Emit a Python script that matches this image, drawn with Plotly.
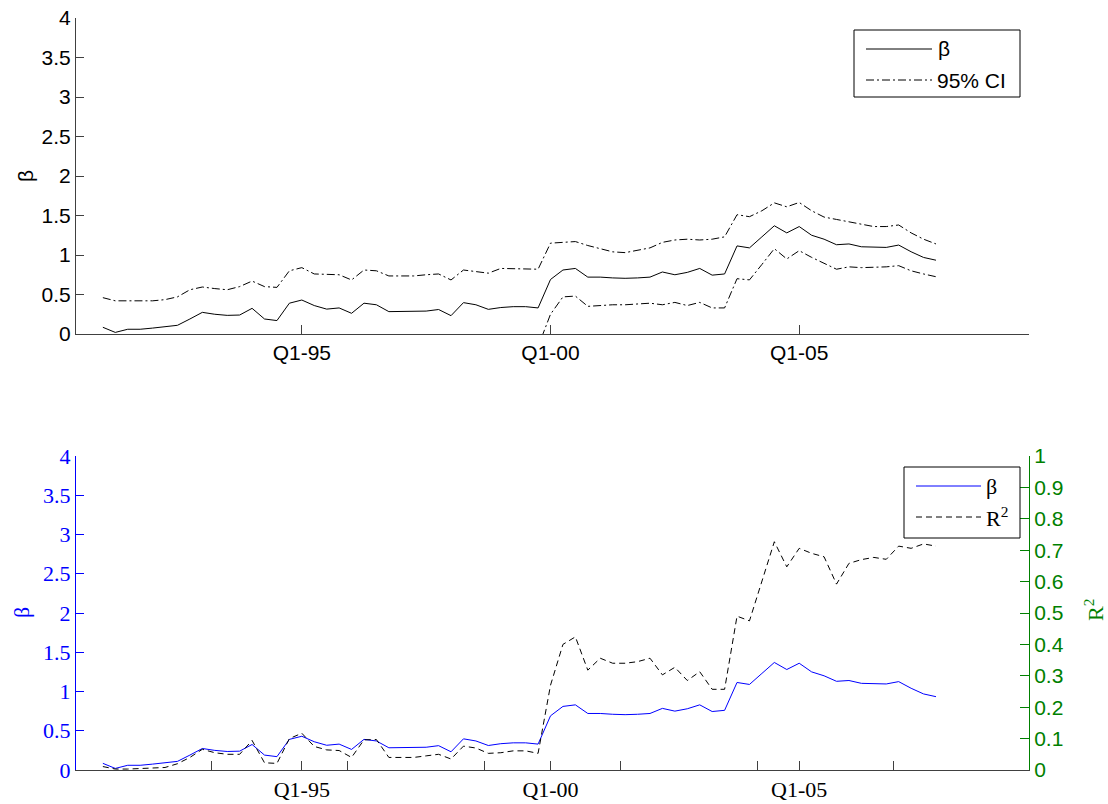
import plotly.graph_objects as go

# Quarterly sample Q1-1991 .. Q4-2007
years = list(range(1991, 2008))
quarters = [1, 2, 3, 4]
labels = [f"Q{q}-{str(y)[2:]}" for y in years for q in quarters]
xpos = [y + (q - 1) / 4 for y in years for q in quarters]

beta = [0.085, 0.02, 0.06, 0.06, 0.075, 0.09, 0.11, 0.19,
        0.274, 0.25, 0.236, 0.24, 0.325, 0.19, 0.17, 0.39,
        0.43, 0.36, 0.315, 0.33, 0.262, 0.39, 0.37, 0.283,
        0.283, 0.283, 0.29, 0.31, 0.232, 0.397, 0.37, 0.312,
        0.335, 0.346, 0.346, 0.33, 0.69, 0.81, 0.83, 0.72,
        0.72, 0.71, 0.705, 0.71, 0.72, 0.785, 0.75, 0.78,
        0.83, 0.745, 0.76, 1.115, 1.09, 1.23, 1.37, 1.28,
        1.36, 1.25, 1.20, 1.13, 1.14, 1.104, 1.10, 1.096,
        1.126, 1.041, 0.969, 0.934]

ci_upper = [0.46, 0.42, 0.42, 0.42, 0.42, 0.435, 0.47, 0.56,
            0.595, 0.575, 0.56, 0.60, 0.67, 0.60, 0.59, 0.80,
            0.84, 0.76, 0.755, 0.75, 0.684, 0.81, 0.80, 0.735,
            0.735, 0.735, 0.75, 0.76, 0.684, 0.81, 0.79, 0.77,
            0.83, 0.825, 0.82, 0.82, 1.15, 1.16, 1.17, 1.12,
            1.08, 1.04, 1.03, 1.06, 1.09, 1.16, 1.19, 1.20,
            1.19, 1.20, 1.23, 1.51, 1.485, 1.56, 1.66, 1.61,
            1.665, 1.56, 1.48, 1.45, 1.42, 1.39, 1.36, 1.36,
            1.38, 1.28, 1.20, 1.14]

ci_lower = [-0.29, -0.38, -0.30, -0.30, -0.27, -0.255, -0.25, -0.18,
            -0.05, -0.075, -0.09, -0.12, -0.02, -0.22, -0.25, -0.02,
            -0.02, -0.04, -0.12, -0.09, -0.16, -0.03, -0.06, -0.17,
            -0.17, -0.17, -0.17, -0.14, -0.22, -0.02, -0.05, -0.15,
            -0.16, -0.13, -0.13, -0.16, 0.25, 0.47, 0.48, 0.35,
            0.36, 0.37, 0.37, 0.38, 0.39, 0.37, 0.40, 0.36,
            0.40, 0.33, 0.33, 0.70, 0.685, 0.88, 1.08, 0.95,
            1.055, 0.97, 0.90, 0.82, 0.85, 0.84, 0.845, 0.85,
            0.865, 0.80, 0.76, 0.725]

r2 = [0.011, 0.003, 0.003, 0.004, 0.005, 0.008, 0.02, 0.04,
      0.066, 0.055, 0.05, 0.05, 0.094, 0.023, 0.021, 0.10,
      0.117, 0.075, 0.064, 0.062, 0.04, 0.096, 0.097, 0.04,
      0.04, 0.04, 0.045, 0.05, 0.035, 0.076, 0.07, 0.053,
      0.055, 0.061, 0.061, 0.053, 0.27, 0.40, 0.424, 0.318,
      0.356, 0.34, 0.34, 0.345, 0.356, 0.303, 0.327, 0.285,
      0.313, 0.257, 0.257, 0.49, 0.475, 0.60, 0.727, 0.647,
      0.706, 0.69, 0.679, 0.592, 0.658, 0.67, 0.677, 0.671,
      0.713, 0.706, 0.72, 0.713]

main_ticks = [1995, 2000, 2005]
main_ticktext = ["Q1-95", "Q1-00", "Q1-05"]
# unlabelled ticks of the secondary x axis on the lower panel
minor_ticks = [1993.18, 1995.91, 1998.67, 2001.41, 2004.16, 2006.89]

X_RANGE = [1990.46, 2009.62]
SANS = "Liberation Sans, Arial, sans-serif"
SERIF = "Liberation Serif, Times New Roman, serif"
BLUE = "#0000ff"
GREEN = "#008000"
AXIS = "#404040"
SANS_SIZE = 21
SERIF_SIZE = 22

W, H = 1108, 804
ML, MR, MT, MB = 76, 79, 18, 34
PW, PH = W - ML - MR, H - MT - MB


def px(x):
    return (x - ML) / PW


def py(y):
    return (H - MB - y) / PH


fig = go.Figure()

# upper panel: beta with confidence band
fig.add_trace(go.Scatter(x=xpos, y=beta, mode="lines", name="β",
                         line=dict(color="#000000", width=1),
                         xaxis="x", yaxis="y", showlegend=False))
fig.add_trace(go.Scatter(x=xpos, y=ci_upper, mode="lines", name="95% CI",
                         line=dict(color="#000000", width=1, dash="8px,3px,2px,3px"),
                         xaxis="x", yaxis="y", showlegend=False))
fig.add_trace(go.Scatter(x=xpos, y=ci_lower, mode="lines", name="95% CI",
                         line=dict(color="#000000", width=1, dash="8px,3px,2px,3px"),
                         xaxis="x", yaxis="y", showlegend=False))

# lower panel: beta (left axis) and R^2 (right axis, own x axis)
fig.add_trace(go.Scatter(x=xpos, y=beta, mode="lines", name="β",
                         line=dict(color=BLUE, width=1),
                         xaxis="x2", yaxis="y2", showlegend=False))
fig.add_trace(go.Scatter(x=xpos, y=r2, mode="lines", name="R²",
                         line=dict(color="#000000", width=1, dash="6px,4px"),
                         xaxis="x3", yaxis="y3", showlegend=False))

top_dom = [py(334), 1.0]
bot_dom = [0.0, py(456)]

common_x = dict(range=X_RANGE, showgrid=False, zeroline=False,
                linecolor=AXIS, linewidth=1, ticks="inside", ticklen=9,
                tickcolor=AXIS, automargin=False)
common_y = dict(range=[0, 4], dtick=0.5, tick0=0, showgrid=False, zeroline=False,
                showline=True, linewidth=1, ticks="inside", ticklen=8,
                automargin=False)

fig.update_layout(
    template="none",
    width=W, height=H,
    margin=dict(l=ML, r=MR, t=MT, b=MB, autoexpand=False),
    paper_bgcolor="white", plot_bgcolor="white",
    showlegend=False,
    xaxis=dict(**common_x, showline=True, domain=[0, 1], anchor="y",
               tickvals=main_ticks, ticktext=main_ticktext,
               tickfont=dict(family=SANS, size=SANS_SIZE, color="#000000")),
    yaxis=dict(**common_y, domain=top_dom, anchor="x",
               linecolor=AXIS, tickcolor=AXIS,
               tickfont=dict(family=SANS, size=SANS_SIZE, color="#000000")),
    xaxis2=dict(**common_x, showline=True, domain=[0, 1], anchor="y2",
                tickvals=main_ticks, ticktext=main_ticktext,
                tickfont=dict(family=SERIF, size=SERIF_SIZE, color="#000000")),
    yaxis2=dict(**common_y, domain=bot_dom, anchor="x2",
                linecolor=BLUE, tickcolor=BLUE,
                tickfont=dict(family=SERIF, size=SERIF_SIZE, color=BLUE)),
    xaxis3=dict(**common_x, showline=False, overlaying="x2", anchor="y3",
                side="bottom", tickvals=minor_ticks, showticklabels=False),
    yaxis3=dict(range=[0, 1], dtick=0.1, tick0=0, overlaying="y2", side="right",
                anchor="x3", showgrid=False, zeroline=False, showline=True,
                linecolor=GREEN, linewidth=1, ticks="inside", ticklen=9,
                tickcolor=GREEN, automargin=False,
                tickfont=dict(family=SANS, size=SANS_SIZE, color=GREEN)),
)

shapes = []
annotations = []

# axis titles
annotations.append(dict(xref="paper", yref="paper", x=px(25), y=py(176),
                        text="β", textangle=-90, showarrow=False,
                        xanchor="center", yanchor="middle",
                        font=dict(family=SANS, size=SANS_SIZE, color="#000000")))
annotations.append(dict(xref="paper", yref="paper", x=px(21), y=py(613),
                        text="β", textangle=-90, showarrow=False,
                        xanchor="center", yanchor="middle",
                        font=dict(family=SERIF, size=SERIF_SIZE, color=BLUE)))
annotations.append(dict(xref="paper", yref="paper", x=px(1094), y=py(610),
                        text="R<sup>2</sup>", textangle=-90, showarrow=False,
                        xanchor="center", yanchor="middle",
                        font=dict(family=SERIF, size=SERIF_SIZE, color=GREEN)))


# legend boxes drawn as shapes and text
def legend_box(x0, y0, x1, y1):
    shapes.append(dict(type="rect", xref="paper", yref="paper",
                       x0=px(x0), x1=px(x1), y0=py(y1), y1=py(y0),
                       line=dict(color="#000000", width=1), fillcolor="white",
                       layer="above"))


def legend_item(xa, xb, y, color, dash, text, tx, family, size):
    shapes.append(dict(type="line", xref="paper", yref="paper",
                       x0=px(xa), x1=px(xb), y0=py(y), y1=py(y),
                       line=dict(color=color, width=1, dash=dash), layer="above"))
    annotations.append(dict(xref="paper", yref="paper", x=px(tx), y=py(y),
                            xanchor="left", yanchor="middle", text=text,
                            showarrow=False,
                            font=dict(family=family, size=size, color="#000000")))


legend_box(854, 30, 1020, 97)
legend_item(866, 932, 49, "#000000", "solid", "β", 936, SANS, SANS_SIZE)
legend_item(866, 932, 80, "#000000", "8px,3px,2px,3px", "95% CI", 935, SANS, SANS_SIZE)

legend_box(904, 467, 1020, 538)
legend_item(916, 981, 486, BLUE, "solid", "β", 984, SERIF, SERIF_SIZE)
legend_item(916, 981, 517, "#000000", "6px,4px", "R<sup>2</sup>", 984, SERIF, SERIF_SIZE)

fig.update_layout(shapes=shapes, annotations=annotations)

fig.write_html("out.html")
